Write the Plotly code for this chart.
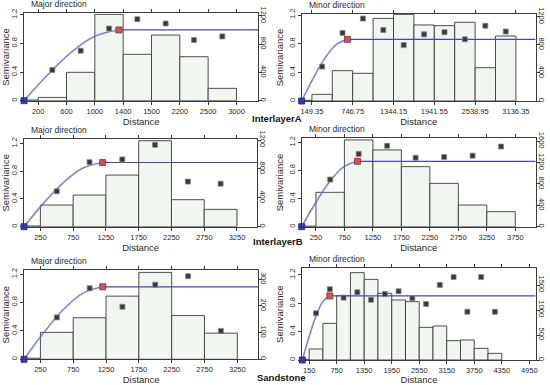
import plotly.graph_objects as go

W, H = 550, 385

# ---------------- data ----------------
# InterlayerA - major direction
a_major_bin_edges = [0, 200, 600, 1000, 1400, 1800, 2200, 2600, 3000]
a_major_pair_counts = [10, 47, 402, 1223, 657, 930, 623, 175]
a_major_lags = [400, 800, 1200, 1600, 2000, 2400, 2800]
a_major_semivariance = [0.43, 0.70, 1.01, 1.14, 1.08, 0.85, 0.90]
a_major_model_h = [0, 335, 670, 1005, 1340]
a_major_model_g = [0, 0.363, 0.681, 0.905, 0.99]
a_major_ticks = [200, 600, 1000, 1400, 1800, 2200, 2600, 3000]
a_major_ticktext = ["200", "600", "1000", "1400", "1500", "2200", "2500", "3000"]

# InterlayerA - minor direction
a_minor_bin_edges = [0, 149.35, 448.05, 746.75, 1045.45, 1344.15, 1642.85,
                     1941.55, 2240.25, 2538.95, 2837.65, 3136.35]
a_minor_pair_counts = [10, 95, 432, 394, 1176, 1233, 1082, 1072, 1120, 474, 925]
a_minor_lags = [298.7, 597.4, 896.1, 1194.8, 1493.5, 1792.2, 2090.9, 2389.6, 2688.3, 2987.0]
a_minor_semivariance = [0.48, 0.95, 1.15, 0.99, 0.78, 0.93, 0.96, 0.86, 1.05, 0.97]
a_minor_model_h = [0, 168, 335, 503, 670]
a_minor_model_g = [0, 0.316, 0.591, 0.786, 0.86]
a_minor_ticks = [149.35, 746.75, 1344.15, 1941.55, 2538.95, 3136.35]
a_minor_ticktext = ["149.35", "746.75", "1344.15", "1941.55", "2538.95", "3136.35"]

# InterlayerB - major direction
b_major_bin_edges = [0, 250, 750, 1250, 1750, 2250, 2750, 3250]
b_major_pair_counts = [10, 300, 438, 715, 1190, 374, 240]
b_major_lags = [500, 1000, 1500, 2000, 2500, 3000]
b_major_semivariance = [0.51, 0.93, 0.97, 1.18, 0.65, 0.62]
b_major_model_h = [0, 300, 600, 900, 1200]
b_major_model_g = [0, 0.340, 0.636, 0.845, 0.925]
b_major_ticks = [250, 750, 1250, 1750, 2250, 2750, 3250]
b_major_ticktext = ["250", "750", "1250", "1750", "2250", "2750", "3250"]

# InterlayerB - minor direction
b_minor_bin_edges = [0, 250, 750, 1250, 1750, 2250, 2750, 3250, 3750]
b_minor_pair_counts = [10, 644, 1625, 1438, 1125, 812, 406, 281]
b_minor_lags = [500, 1000, 1500, 2000, 2500, 3000, 3500]
b_minor_semivariance = [0.67, 1.035, 1.15, 0.98, 0.99, 1.01, 1.14]
b_minor_model_h = [0, 245, 490, 735, 980]
b_minor_model_g = [0, 0.341, 0.639, 0.850, 0.93]
b_minor_ticks = [250, 750, 1250, 1750, 2250, 2750, 3250, 3750]
b_minor_ticktext = ["250", "750", "1250", "1750", "2250", "2750", "3250", "3750"]

# Sandstone - major direction
s_major_bin_edges = [0, 250, 750, 1250, 1750, 2250, 2750, 3250]
s_major_pair_counts = [4, 101, 156, 237, 326, 164, 98]
s_major_lags = [500, 1000, 1500, 2000, 2500, 3000]
s_major_semivariance = [0.59, 1.00, 0.74, 1.05, 1.17, 0.40]
s_major_model_h = [0, 300, 600, 900, 1200]
s_major_model_g = [0, 0.374, 0.701, 0.932, 1.02]
s_major_ticks = [250, 750, 1250, 1750, 2250, 2750, 3250]
s_major_ticktext = ["250", "750", "1250", "1750", "2250", "2750", "3250"]

# Sandstone - minor direction
s_minor_bin_edges = [0, 150, 450, 750, 1050, 1350, 1650, 1950, 2250, 2550,
                     2850, 3150, 3450, 3750, 4050, 4350]
s_minor_pair_counts = [12, 220, 733, 1287, 1747, 1613, 1333, 1200, 1167,
                       653, 680, 387, 400, 233, 133]
s_minor_lags = [300, 600, 900, 1200, 1500, 1800, 2100, 2400, 2700, 3000,
                3300, 3600, 3900, 4200]
s_minor_semivariance = [0.66, 1.00, 0.88, 0.955, 0.85, 0.93, 0.97, 0.87, 0.79,
                        1.06, 1.17, 0.68, 1.17, 0.68]
s_minor_model_h = [0, 150, 300, 450, 600]
s_minor_model_g = [0, 0.332, 0.622, 0.826, 0.904]
s_minor_ticks = [150, 750, 1350, 1950, 2550, 3150, 3750, 4350, 4950]
s_minor_ticktext = ["150", "750", "1350", "1950", "2550", "3150", "3750", "4350", "4950"]

semivar_ticks = [0, 0.4, 0.8, 1.2]
semivar_ticktext = ["0", "0.4", "0.8", "1.2"]

row_labels = ["InterlayerA", "InterlayerB", "Sandstone"]
panel_titles = ["Major direction", "Minor direction"]

# ---------------- layout config (pixel boxes, axis ranges) ----------------
panels = [
    dict(edges=a_major_bin_edges, counts=a_major_pair_counts, lags=a_major_lags,
         gamma=a_major_semivariance, mh=a_major_model_h, mg=a_major_model_g,
         ticks=a_major_ticks, ticktext=a_major_ticktext, title=panel_titles[0],
         box=(24, 13.3, 258.3, 100.7), xmax=3308, ymax=1.223, cmax=1238,
         cticks=[0, 400, 800, 1200]),
    dict(edges=a_minor_bin_edges, counts=a_minor_pair_counts, lags=a_minor_lags,
         gamma=a_minor_semivariance, mh=a_minor_model_h, mg=a_minor_model_g,
         ticks=a_minor_ticks, ticktext=a_minor_ticktext, title=panel_titles[1],
         box=(301.7, 14, 535.7, 101), xmax=3426, ymax=1.214, cmax=1238,
         cticks=[0, 400, 800, 1200]),
    dict(edges=b_major_bin_edges, counts=b_major_pair_counts, lags=b_major_lags,
         gamma=b_major_semivariance, mh=b_major_model_h, mg=b_major_model_g,
         ticks=b_major_ticks, ticktext=b_major_ticktext, title=panel_titles[0],
         box=(24, 139, 257.3, 226.7), xmax=3560, ymax=1.264, cmax=1214,
         cticks=[0, 400, 800, 1200]),
    dict(edges=b_minor_bin_edges, counts=b_minor_pair_counts, lags=b_minor_lags,
         gamma=b_minor_semivariance, mh=b_minor_model_h, mg=b_minor_model_g,
         ticks=b_minor_ticks, ticktext=b_minor_ticktext, title=panel_titles[1],
         box=(301.7, 138.3, 535.7, 226.7), xmax=4108, ymax=1.257, cmax=1656,
         cticks=[0, 400, 800, 1200, 1600]),
    dict(edges=s_major_bin_edges, counts=s_major_pair_counts, lags=s_major_lags,
         gamma=s_major_semivariance, mh=s_major_model_h, mg=s_major_model_g,
         ticks=s_major_ticks, ticktext=s_major_ticktext, title=panel_titles[0],
         box=(24, 270, 258.3, 359.3), xmax=3570, ymax=1.257, cmax=335,
         cticks=[0, 100, 200, 300]),
    dict(edges=s_minor_bin_edges, counts=s_minor_pair_counts, lags=s_minor_lags,
         gamma=s_minor_semivariance, mh=s_minor_model_h, mg=s_minor_model_g,
         ticks=s_minor_ticks, ticktext=s_minor_ticktext, title=panel_titles[1],
         box=(302.3, 268.3, 535.7, 360), xmax=5090, ymax=1.294, cmax=1834,
         cticks=[0, 500, 1000, 1500]),
]

FONT = "Liberation Sans, Arial, sans-serif"
TXT = "#2a2a2a"
AX = "#3a3a3a"

fig = go.Figure()
layout = dict(width=W, height=H, margin=dict(l=0, r=0, t=0, b=0, autoexpand=False),
              paper_bgcolor="white", plot_bgcolor="white", showlegend=False,
              font=dict(family=FONT, size=8, color=TXT))
annotations = []

for i, p in enumerate(panels, start=1):
    xa = "x" if i == 1 else f"x{i}"
    yc_n, ys_n = 2 * i - 1, 2 * i
    yc = "y" if yc_n == 1 else f"y{yc_n}"
    ys = f"y{ys_n}"
    x0, y0, x1, y1 = p["box"]
    xdom = [x0 / W, x1 / W]
    ydom = [1 - y1 / H, 1 - y0 / H]

    edges = p["edges"]
    centers = [(a + b) / 2 for a, b in zip(edges[:-1], edges[1:])]
    widths = [b - a for a, b in zip(edges[:-1], edges[1:])]

    fig.add_trace(go.Bar(x=centers, y=p["counts"], width=widths,
                         marker=dict(color="#f1f6f1", line=dict(color="#3a3a3a", width=0.9)),
                         xaxis=xa, yaxis=yc, hoverinfo="skip"))
    # model curve
    fig.add_trace(go.Scatter(x=p["mh"], y=p["mg"], mode="lines",
                             line=dict(color="rgba(110,110,205,0.85)", width=1.6, shape="spline"),
                             xaxis=xa, yaxis=ys, cliponaxis=False))
    # sill line
    fig.add_trace(go.Scatter(x=[p["mh"][-1], p["xmax"]], y=[p["mg"][-1], p["mg"][-1]],
                             mode="lines", line=dict(color="#4848aa", width=1.2),
                             xaxis=xa, yaxis=ys))
    # experimental semivariance
    fig.add_trace(go.Scatter(x=p["lags"], y=p["gamma"], mode="markers",
                             marker=dict(symbol="square", size=5, color="#383838",
                                         line=dict(color="#8a8a8a", width=0.8)),
                             xaxis=xa, yaxis=ys))
    # range point (red) and origin (blue)
    fig.add_trace(go.Scatter(x=[p["mh"][-1]], y=[p["mg"][-1]], mode="markers",
                             marker=dict(symbol="square", size=6, color="#d65252",
                                         line=dict(color="#7a3030", width=0.8)),
                             xaxis=xa, yaxis=ys))
    fig.add_trace(go.Scatter(x=[p["mh"][0]], y=[p["mg"][0]], mode="markers",
                             marker=dict(symbol="square", size=6, color="#3a3acc",
                                         line=dict(color="#1e1e80", width=0.8)),
                             xaxis=xa, yaxis=ys, cliponaxis=False))

    xkey = "xaxis" if i == 1 else f"xaxis{i}"
    yckey = "yaxis" if yc_n == 1 else f"yaxis{yc_n}"
    yskey = f"yaxis{ys_n}"
    layout[xkey] = dict(domain=xdom, anchor=yc, range=[0, p["xmax"]], automargin=False,
                        tickmode="array", tickvals=p["ticks"], ticktext=p["ticktext"],
                        tickangle=0,
                        showline=True, linecolor=AX, linewidth=1, mirror="ticks",
                        ticks="outside", ticklen=3, tickwidth=0.8, tickcolor=AX,
                        showgrid=False, zeroline=False,
                        tickfont=dict(size=7.5, color=TXT),
                        title=dict(text="Distance", font=dict(size=9.5, color=TXT), standoff=1))
    layout[yckey] = dict(domain=ydom, anchor=xa, side="right", range=[0, p["cmax"]],
                         automargin=False,
                         tickmode="array", tickvals=p["cticks"], tickangle=90,
                         ticklabelstandoff=-4,
                         showline=True, linecolor=AX, linewidth=1,
                         ticks="outside", ticklen=3, tickwidth=0.8, tickcolor=AX,
                         showgrid=False, zeroline=False,
                         tickfont=dict(size=7.5, color=TXT))
    layout[yskey] = dict(overlaying=yc, anchor=xa, side="left", range=[0, p["ymax"]],
                         automargin=False,
                         tickmode="array", tickvals=semivar_ticks, ticktext=semivar_ticktext,
                         tickangle=-90,
                         showline=True, linecolor=AX, linewidth=1,
                         ticks="outside", ticklen=3, tickwidth=0.8, tickcolor=AX,
                         showgrid=False, zeroline=False,
                         tickfont=dict(size=7.5, color=TXT),
                         title=dict(text="Semivariance", font=dict(size=9.5, color=TXT), standoff=2))

    annotations.append(dict(text=p["title"], xref="paper", yref="paper",
                            x=(x0 + 5) / W, y=1 - (y0 - 2) / H, xanchor="left", yanchor="bottom",
                            showarrow=False, font=dict(size=8.5, color=TXT)))

row_pos = [(277, 118), (278, 241), (281, 377)]
for lab, (px, py) in zip(row_labels, row_pos):
    annotations.append(dict(text=f"<b>{lab}</b>", xref="paper", yref="paper",
                            x=px / W, y=1 - py / H, xanchor="center", yanchor="middle",
                            showarrow=False, font=dict(size=9.5, color="#111")))

layout["annotations"] = annotations
fig.update_layout(**layout)
fig.write_html("out.html", config={"displayModeBar": False},
               post_script="document.body.style.margin='0px';document.body.style.padding='0px';"
                           "document.body.style.overflow='hidden';")
